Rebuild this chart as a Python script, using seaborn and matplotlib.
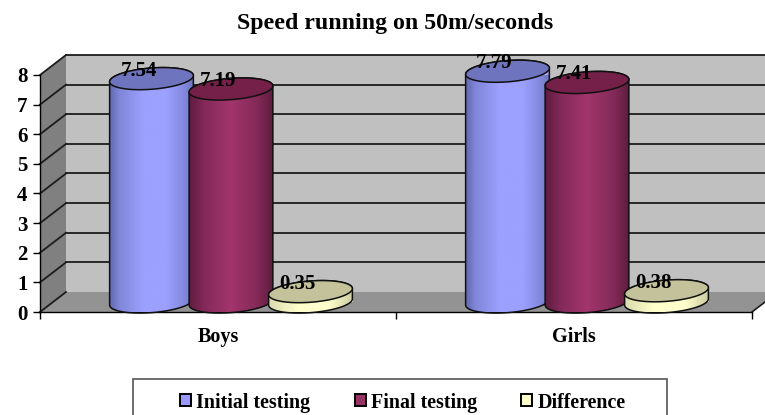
import numpy as np
import pandas as pd
import seaborn as sns
import matplotlib
matplotlib.use("Agg")
import matplotlib.pyplot as plt
from matplotlib.colors import LinearSegmentedColormap
from matplotlib.patches import Polygon, Patch, Rectangle
from matplotlib.lines import Line2D
from matplotlib.transforms import IdentityTransform, Affine2D

groups = ["Boys", "Girls"]
series = ["Initial testing", "Final testing", "Difference"]
initial_values = [7.54, 7.79]
final_values = [7.19, 7.41]
difference_values = [0.35, 0.38]
y_ticks = [0, 1, 2, 3, 4, 5, 6, 7, 8]
title_text = "Speed running on 50m/seconds"

fills = ["#9999FF", "#993366", "#FFFFCC"]
tops = ["#6F74BE", "#742049", "#C4C29B"]
ramps = [
    [(0, "#5C60A6"), (.14, "#8086D8"), (.42, "#9CA0FF"), (.68, "#9CA0FF"), (.9, "#8085D8"), (1, "#6A6EB8")],
    [(0, "#5A1B3C"), (.2, "#84295A"), (.5, "#A2356C"), (.8, "#842A58"), (1, "#5A1B3C")],
    [(0, "#D8D8AC"), (.35, "#FFFFCC"), (.7, "#FFFFCC"), (1, "#C8C8A0")],
]

W, H = 765, 415
FX0, FX1, FY0, FY8 = 40, 752, 312, 75      # front plane, pixels from top-left
DX, DY = 26, 20                            # depth of the 3-D box, pixels
A, B, TILT = 42, 10.6, np.deg2rad(4.5)     # cylinder cross-section

plt.rcParams["font.family"] = ["Liberation Serif", "DejaVu Serif"]
plt.rcParams["font.weight"] = "bold"

fig = plt.figure(figsize=(W / 100, H / 100), dpi=100, facecolor="white")
ax = fig.add_axes([FX0 / W, 1 - FY0 / H, (FX1 - FX0) / W, (FY0 - FY8) / H])
ax.patch.set_visible(False)

df = pd.DataFrame({
    "group": groups * 3,
    "series": np.repeat(series, 2),
    "value": initial_values + final_values + difference_values,
})
sns.barplot(data=df, x="group", y="value", hue="series", hue_order=series,
            palette=fills, width=0.67, gap=0, legend=False, ax=ax,
            errorbar=None, zorder=5)
ax.set_xlim(-0.5, 1.5)
ax.set_ylim(0, 8)
ax.set_autoscale_on(False)
ax.set_xlabel("")
ax.set_ylabel("")
ax.set_yticks(y_ticks)
ax.set_xticks([-0.5, 0.5, 1.5])
ax.set_xticklabels([])
ax.tick_params(axis="both", length=5, width=1, color="black")
ax.tick_params(axis="y", labelsize=15, pad=4)
for lab in ax.get_yticklabels():
    lab.set_fontweight("bold")
for s in ["top", "right"]:
    ax.spines[s].set_visible(False)
for s in ["left", "bottom"]:
    ax.spines[s].set_linewidth(1)
    ax.spines[s].set_color("black")
    ax.spines[s].set_zorder(3)

ident = IdentityTransform()


def disp(x, v):
    return ax.transData.transform((x, v))


def add_poly(pts, **kw):
    p = Polygon(pts, closed=True, transform=ident, clip_on=False, **kw)
    ax.add_patch(p)
    return p


def ring(cx, cy, th):
    return np.column_stack([
        cx + A * np.cos(th) * np.cos(TILT) - B * np.sin(th) * np.sin(TILT),
        cy + A * np.cos(th) * np.sin(TILT) + B * np.sin(th) * np.cos(TILT),
    ])


# 3-D box: back wall, left wall, floor
x0, y0 = disp(-0.5, 0)
x1, _ = disp(1.5, 0)
_, y8 = disp(-0.5, 8)
add_poly([(x0 + DX, y0 + DY), (x1 + DX, y0 + DY), (x1 + DX, y8 + DY), (x0 + DX, y8 + DY)],
         facecolor="#C0C0C0", edgecolor="none", zorder=0)
add_poly([(x0, y0), (x0 + DX, y0 + DY), (x0 + DX, y8 + DY), (x0, y8)],
         facecolor="#808080", edgecolor="none", zorder=0.2)
add_poly([(x0, y0), (x0 + DX, y0 + DY), (x1 + DX, y0 + DY), (x1, y0)],
         facecolor="#939393", edgecolor="none", zorder=0.2)
for t in y_ticks:
    _, yy = disp(-0.5, t)
    line_kw = dict(color="#1c1c1c", lw=1.3, transform=ident, clip_on=False, zorder=1)
    ax.add_line(Line2D([x0, x0 + DX], [yy, yy + DY], **line_kw))
    if t > 0:
        ax.add_line(Line2D([x0 + DX, x1 + DX], [yy + DY, yy + DY], **line_kw))
ax.add_line(Line2D([x1, x1 + DX], [y0, y0 + DY], color="#1c1c1c", lw=1.2,
                   transform=ident, clip_on=False, zorder=1))

# cylinders, built on the bars seaborn placed
bars = list(ax.patches)[:6]
shift = Affine2D().translate(DX / 2, DY / 2)
half = np.linspace(np.pi, 2 * np.pi, 60)
full = np.linspace(0, 2 * np.pi, 120)
grad = np.linspace(0, 1, 256).reshape(1, -1)
for i, rect in enumerate(bars):
    s = i // 2
    z = 5 + i // 2
    w = A * 2 / (x1 - x0) * 2
    xc = rect.get_x() + rect.get_width() / 2
    rect.set_width(w)
    rect.set_x(xc - w / 2)
    rect.set_transform(ax.transData + shift)
    rect.set_clip_on(False)
    rect.set_zorder(z)
    rect.set_edgecolor("none")
    v = rect.get_height()
    cx, yb = disp(xc, 0) + (DX / 2, DY / 2)
    _, yt = disp(xc, v) + (DX / 2, DY / 2)
    base = ring(cx, yb, half)
    outline = np.vstack([ring(cx, yt, np.array([np.pi])), base, ring(cx, yt, np.array([0.0])),
                         ring(cx, yt, np.linspace(0, np.pi, 40))])
    body = add_poly(outline, facecolor="none", edgecolor="none", zorder=z)
    cmap = LinearSegmentedColormap.from_list(f"r{s}", ramps[s])
    im = ax.imshow(grad, cmap=cmap, aspect="auto", interpolation="bilinear",
                   extent=(cx - A - 2, cx + A + 2, yb - B - 3, yt + B + 3),
                   transform=ident, zorder=z + 0.1)
    im.set_clip_path(body)
    add_poly(outline, facecolor="none", edgecolor="#101010", lw=1.1, zorder=z + 0.2)
    add_poly(ring(cx, yt, full), facecolor=tops[s], edgecolor="#101010", lw=1.1, zorder=z + 0.3)
    ax.annotate(f"{v:.2f}", xy=(xc, v), xycoords="data",
                xytext=(DX / 2 - 13, DY / 2 + 8), textcoords="offset pixels",
                ha="center", va="center", fontsize=15, fontweight="bold",
                color="black", zorder=20, annotation_clip=False)

ax.set_xlim(-0.5, 1.5)
ax.set_ylim(0, 8)

for g, xc in zip(groups, [0, 1]):
    ax.annotate(g, xy=(xc, 0), xycoords="data", xytext=(0, -25), textcoords="offset pixels",
                ha="center", va="center", fontsize=14.5, fontweight="bold", annotation_clip=False)

fig.text(395.5 / W, 1 - 24 / H, title_text, ha="center", va="center",
         fontsize=17.2, fontweight="bold")

# legend frame runs past the bottom edge of the picture, as in the reference
fig.add_artist(Rectangle((133, H - 425), 534, 46, transform=ident, facecolor="white",
                         edgecolor="#555555", linewidth=1.2, zorder=1))
handles = [Patch(facecolor=c, edgecolor="black", linewidth=1.4, label=n) for c, n in zip(fills, series)]
leg = fig.legend(handles=handles, loc="center", ncol=3,
                 bbox_to_anchor=(403 / W, 1 - 402.5 / H),
                 frameon=False,
                 prop={"family": "Liberation Serif", "weight": "bold", "size": 14.4},
                 handlelength=0.55, handleheight=0.55, handletextpad=0.28,
                 borderaxespad=0, borderpad=0, columnspacing=2.2)
leg.set_zorder(2)

fig.savefig("out.png", dpi=100, facecolor="white")
